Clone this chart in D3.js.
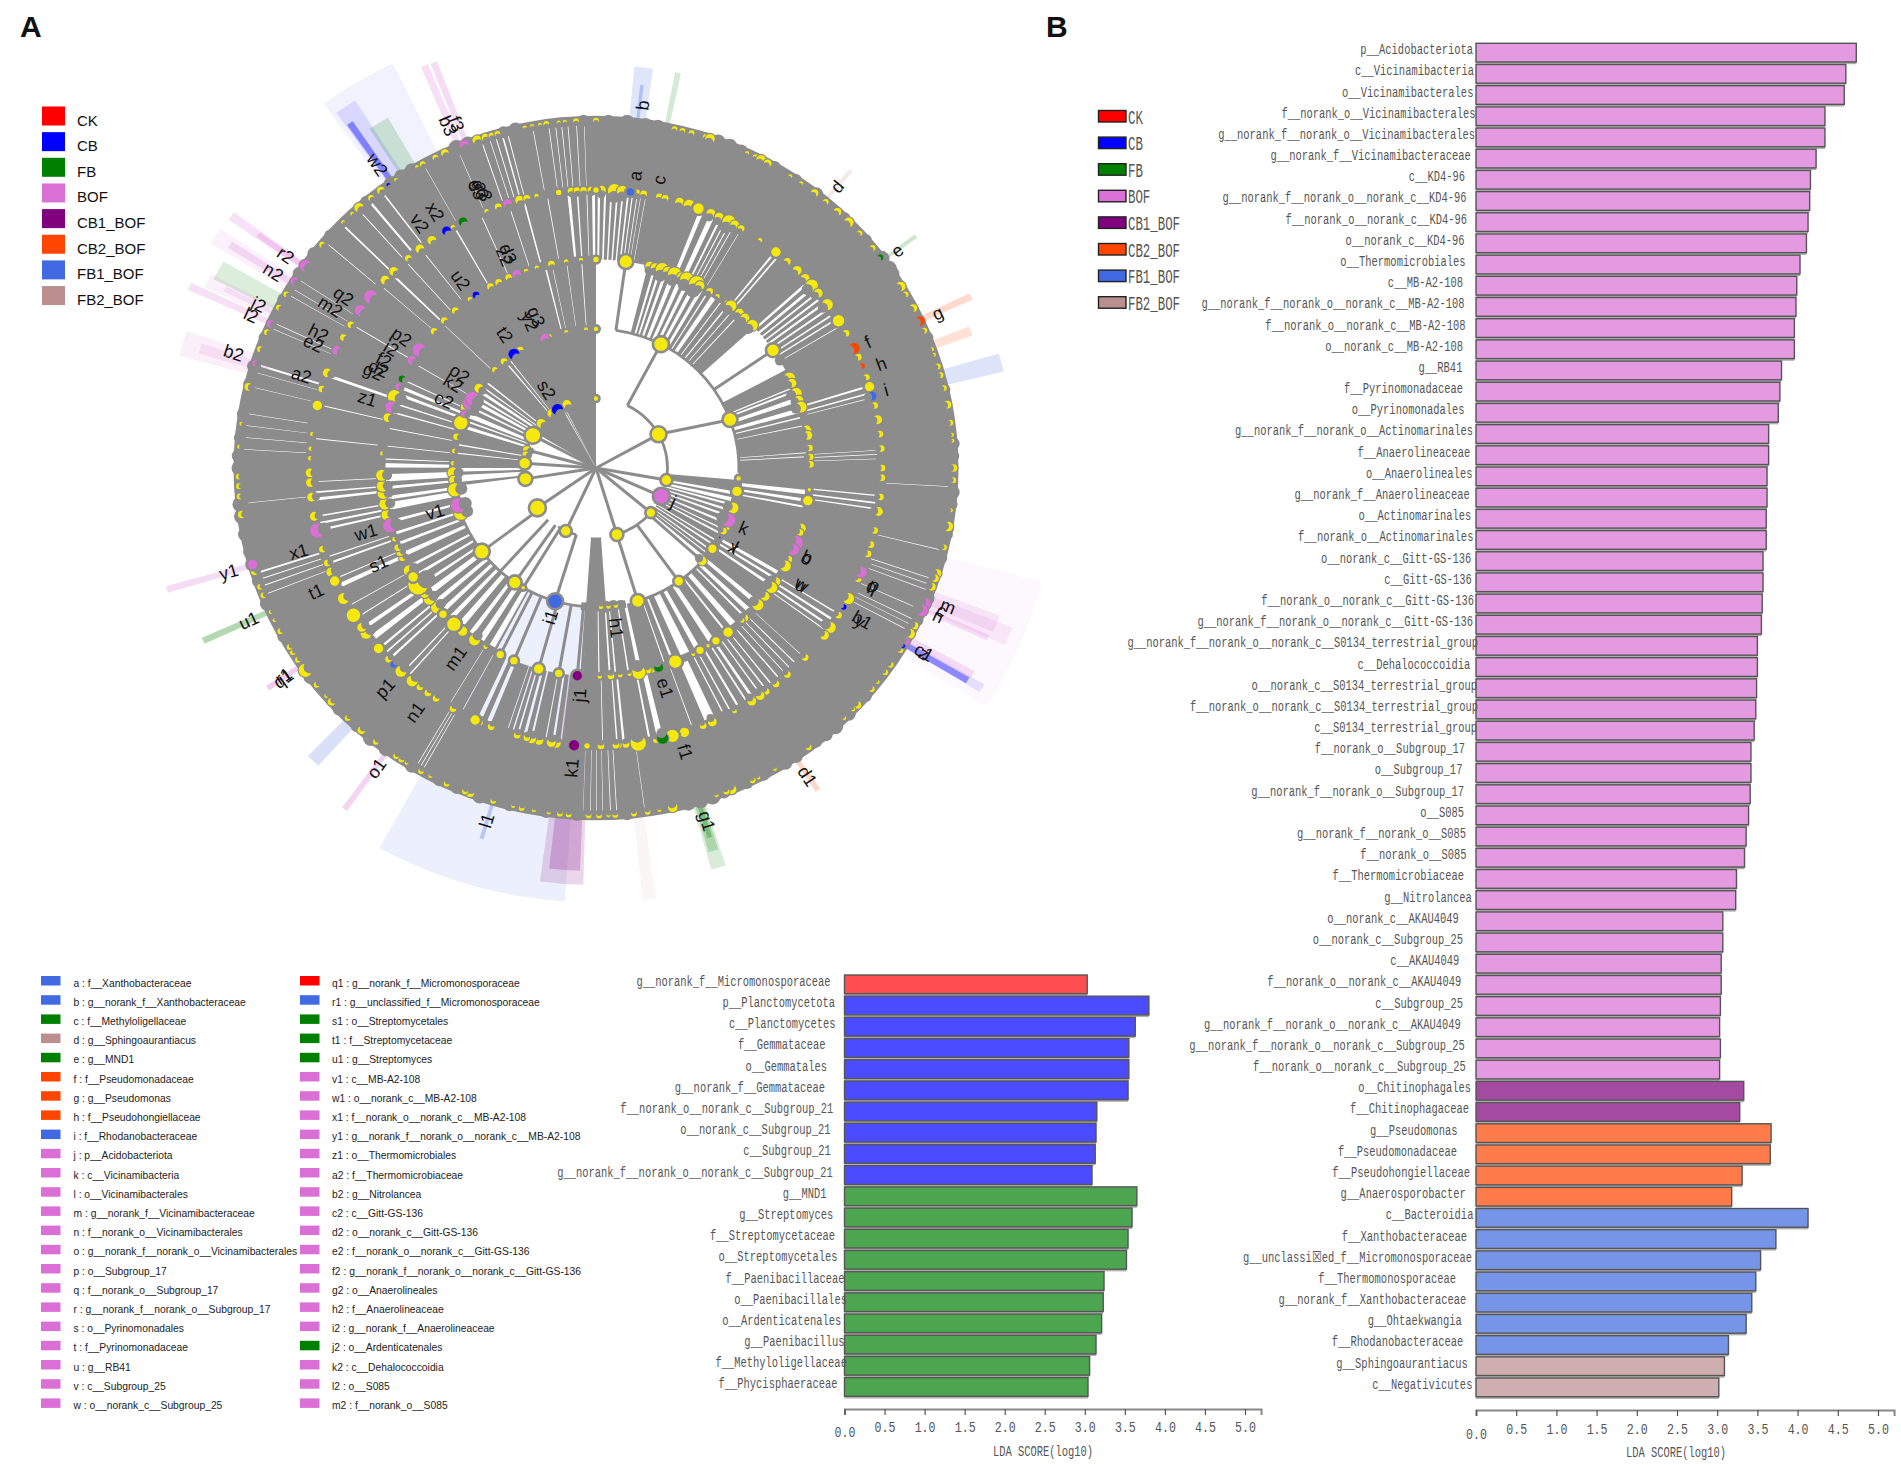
<!DOCTYPE html>
<html><head><meta charset="utf-8">
<style>html,body{margin:0;padding:0;background:#fff}svg{display:block}</style>
<script src="https://cdn.jsdelivr.net/npm/d3@7"></script></head><body>
<script>
// ---------- group colours ----------
const groupNames=["CK","CB","FB","BOF","CB1_BOF","CB2_BOF","FB1_BOF","FB2_BOF"];
const groupColors=["#ff0000","#0000ff","#008000","#da70d6","#800080","#ff4500","#4169e1","#bc8f8f"];
const barColors=["#ff4d50","#4b4bff","#4ba64f","#e49ae0","#a44aa0","#ff7b49","#7795e8","#ceaeae"];
const CK=0,CB=1,FB=2,BOF=3,CB1=4,CB2=5,FB1=6,FB2=7;

// ---------- bar chart, lower middle ----------
const leftNames=["g__norank_f__Micromonosporaceae","p__Planctomycetota","c__Planctomycetes","f__Gemmataceae","o__Gemmatales","g__norank_f__Gemmataceae","f__norank_o__norank_c__Subgroup_21","o__norank_c__Subgroup_21","c__Subgroup_21","g__norank_f__norank_o__norank_c__Subgroup_21","g__MND1","g__Streptomyces","f__Streptomycetaceae","o__Streptomycetales","f__Paenibacillaceae","o__Paenibacillales","o__Ardenticatenales","g__Paenibacillus","f__Methyloligellaceae","f__Phycisphaeraceae"];
const leftValues=[3.03,3.80,3.63,3.55,3.55,3.54,3.15,3.14,3.13,3.09,3.65,3.59,3.54,3.52,3.24,3.23,3.21,3.14,3.06,3.04];
const leftGroups=[0,1,1,1,1,1,1,1,1,1,2,2,2,2,2,2,2,2,2,2];
const leftLabelGap=[14,9.4,9,18.9,17.5,19.4,11.3,14,13.7,11.8,18,11.3,9.4,7,0,-2.4,3.3,0,-2.4,7];

// ---------- bar chart, right ----------
const rightNames=["p__Acidobacteriota","c__Vicinamibacteria","o__Vicinamibacterales","f__norank_o__Vicinamibacterales","g__norank_f__norank_o__Vicinamibacterales","g__norank_f__Vicinamibacteraceae","c__KD4-96","g__norank_f__norank_o__norank_c__KD4-96","f__norank_o__norank_c__KD4-96","o__norank_c__KD4-96","o__Thermomicrobiales","c__MB-A2-108","g__norank_f__norank_o__norank_c__MB-A2-108","f__norank_o__norank_c__MB-A2-108","o__norank_c__MB-A2-108","g__RB41","f__Pyrinomonadaceae","o__Pyrinomonadales","g__norank_f__norank_o__Actinomarinales","f__Anaerolineaceae","o__Anaerolineales","g__norank_f__Anaerolineaceae","o__Actinomarinales","f__norank_o__Actinomarinales","o__norank_c__Gitt-GS-136","c__Gitt-GS-136","f__norank_o__norank_c__Gitt-GS-136","g__norank_f__norank_o__norank_c__Gitt-GS-136","g__norank_f__norank_o__norank_c__S0134_terrestrial_group","c__Dehalococcoidia","o__norank_c__S0134_terrestrial_group","f__norank_o__norank_c__S0134_terrestrial_group","c__S0134_terrestrial_group","f__norank_o__Subgroup_17","o__Subgroup_17","g__norank_f__norank_o__Subgroup_17","o__S085","g__norank_f__norank_o__S085","f__norank_o__S085","f__Thermomicrobiaceae","g__Nitrolancea","o__norank_c__AKAU4049","o__norank_c__Subgroup_25","c__AKAU4049","f__norank_o__norank_c__AKAU4049","c__Subgroup_25","g__norank_f__norank_o__norank_c__AKAU4049","g__norank_f__norank_o__norank_c__Subgroup_25","f__norank_o__norank_c__Subgroup_25","o__Chitinophagales","f__Chitinophagaceae","g__Pseudomonas","f__Pseudomonadaceae","f__Pseudohongiellaceae","g__Anaerosporobacter","c__Bacteroidia","f__Xanthobacteraceae","g__unclassi\u2612ed_f__Micromonosporaceae","f__Thermomonosporaceae","g__norank_f__Xanthobacteraceae","g__Ohtaekwangia","f__Rhodanobacteraceae","g__Sphingoaurantiacus","c__Negativicutes"];
const rightValues=[4.73,4.60,4.58,4.34,4.34,4.23,4.16,4.15,4.13,4.11,4.03,3.99,3.98,3.96,3.96,3.80,3.78,3.76,3.64,3.64,3.62,3.62,3.61,3.61,3.57,3.57,3.56,3.55,3.50,3.50,3.49,3.48,3.46,3.42,3.42,3.41,3.39,3.36,3.34,3.24,3.23,3.07,3.07,3.05,3.05,3.04,3.03,3.04,3.03,3.33,3.28,3.67,3.66,3.31,3.18,4.13,3.73,3.54,3.48,3.43,3.36,3.14,3.09,3.02];
const rightCounts=[49,2,4,7,2];
const rightGroupIds=[BOF,CB1,CB2,FB1,FB2];
const rightLabelGap=[3,2,2.6,.5,1,5.2,11,9.4,8.9,11.5,10.5,13,11.5,10.5,13,13.6,13,11.5,3,5.8,3.6,6.3,4.7,2.6,4.7,4.2,2,3,-2,5.8,-1,-2,-1,11,13.6,12,12,10,9.4,12,4.2,17.3,13,16.8,14.7,13,15.2,11.2,10.2,5,7,18.4,19,6,10.2,2.6,9,4,20,9.7,14.3,12.8,8.2,3.6];
const ldaTicks=[0,.5,1,1.5,2,2.5,3,3.5,4,4.5,5];

// ---------- biomarker key ----------
const keyColumn1=[["a : f__Xanthobacteraceae",FB1],["b : g__norank_f__Xanthobacteraceae",FB1],["c : f__Methyloligellaceae",FB],["d : g__Sphingoaurantiacus",FB2],["e : g__MND1",FB],["f : f__Pseudomonadaceae",CB2],["g : g__Pseudomonas",CB2],["h : f__Pseudohongiellaceae",CB2],["i : f__Rhodanobacteraceae",FB1],["j : p__Acidobacteriota",BOF],["k : c__Vicinamibacteria",BOF],["l : o__Vicinamibacterales",BOF],["m : g__norank_f__Vicinamibacteraceae",BOF],["n : f__norank_o__Vicinamibacterales",BOF],["o : g__norank_f__norank_o__Vicinamibacterales",BOF],["p : o__Subgroup_17",BOF],["q : f__norank_o__Subgroup_17",BOF],["r : g__norank_f__norank_o__Subgroup_17",BOF],["s : o__Pyrinomonadales",BOF],["t : f__Pyrinomonadaceae",BOF],["u : g__RB41",BOF],["v : c__Subgroup_25",BOF],["w : o__norank_c__Subgroup_25",BOF]];
const keyColumn2=[["q1 : g__norank_f__Micromonosporaceae",CK],["r1 : g__unclassified_f__Micromonosporaceae",FB1],["s1 : o__Streptomycetales",FB],["t1 : f__Streptomycetaceae",FB],["u1 : g__Streptomyces",FB],["v1 : c__MB-A2-108",BOF],["w1 : o__norank_c__MB-A2-108",BOF],["x1 : f__norank_o__norank_c__MB-A2-108",BOF],["y1 : g__norank_f__norank_o__norank_c__MB-A2-108",BOF],["z1 : o__Thermomicrobiales",BOF],["a2 : f__Thermomicrobiaceae",BOF],["b2 : g__Nitrolancea",BOF],["c2 : c__Gitt-GS-136",BOF],["d2 : o__norank_c__Gitt-GS-136",BOF],["e2 : f__norank_o__norank_c__Gitt-GS-136",BOF],["f2 : g__norank_f__norank_o__norank_c__Gitt-GS-136",BOF],["g2 : o__Anaerolineales",BOF],["h2 : f__Anaerolineaceae",BOF],["i2 : g__norank_f__Anaerolineaceae",BOF],["j2 : o__Ardenticatenales",FB],["k2 : c__Dehalococcoidia",BOF],["l2 : o__S085",BOF],["m2 : f__norank_o__S085",BOF]];

// ---------- cladogram: wedges as [fromDeg,toDeg], clockwise from the top ----------
const band1Gray=[[301,360]];
const band1Gaps=[[331,331.8],[333,333.6]];
const band2Gray=[[258,360],[95,130],[176,184]];
const band2Gaps=[[258,262.5],[264,267],[268.5,270],[276,276.5],[279.5,280.2],[287,288.5],[290,290.8],[292,294],[296,297],[298.5,300],[301,302],[303.5,304.8],[306,306.6],[308.5,309.2],[320,320.6],[322,322.4],[99.8,101.2],[102.5,104.2],[105,106],[107.5,108.5],[110,111],[113,114],[116,116.6],[118,118.8],[121.5,122.2],[123.5,124.3],[126,126.7],[128,128.5]];
const band3Gray=[[14,47.5],[62,183.5],[208,360]];
const band3Gaps=[[15.5,16.3],[17,17.8],[18.6,19.6],[20.5,22],[22.8,24.2],[25,26.2],[27,28.3],[29.2,30.4],[31.5,32],[33,34.6],[36,36.4],[38,38.5],[40,40.3],[42,42.4],[67,67.5],[68,68.7],[70,71.5],[73,74.5],[75.5,76],[78,78.3],[85.6,85.9],[86.7,87],[96,97.5],[98.5,99.5],[100.5,101.2],[120,121.2],[122,122.8],[124,125],[130,131.5],[133,134.5],[135.5,136.2],[138.5,140.5],[142,142.7],[146,148],[150.5,152.2],[153.5,156.5],[158.5,159.3],[161,161.4],[167.5,168.8],[171,171.5],[174.5,175],[176,176.6],[179,179.4],[208.5,210.5],[212,214],[215.5,217],[219,221],[222.5,224],[225.5,227],[228.5,230],[231.5,233.5],[235,236],[238,239],[241,242],[244.5,246],[248,249],[251,252],[254.5,255.5],[258,260.5],[261,262.2],[264,265],[266,268.5],[270,271.5],[272.3,272.7],[276,276.3],[281,281.3],[285.5,286],[288,288.5],[290.5,291.5],[292.5,293.5],[295,295.4],[300.5,300.7],[314,314.2],[346,346.5],[348,348.2],[352,352.2],[356,356.3]];
const band4Gray=[[0,360]];
const band4Gaps=[[0.2,1],[1.5,2.2],[2.8,3.4],[4,4.6],[5.1,5.7],[6.2,6.8],[7.2,7.6],[8.2,8.5],[9,9.2],[10,10.2],[21,22.5],[23.2,25],[25.5,26.2],[26.8,27.2],[27.8,28.2],[28.8,29.1],[30.5,30.7],[38.5,39.2],[39.6,40.2],[47.5,48.5],[49,50],[50.5,51.2],[51.8,52.5],[53,53.8],[54.5,55.2],[56,56.6],[57.2,57.8],[59,59.3],[72.5,73.2],[74,74.6],[75.2,75.5],[86.2,86.4],[87,87.3],[88,88.2],[95.5,96],[97,97.6],[98.3,98.8],[121.5,122],[123,123.8],[124.4,125.2],[125.8,126.2],[133,133.2],[135,135.4],[136.5,136.9],[138,138.3],[139.5,140],[141.5,142],[143,143.5],[144.5,145],[146,147],[147.6,148.2],[149.5,150.3],[151.5,152],[153,153.5],[154.5,158],[160,160.3],[166,168],[168.8,169.5],[174,174.8],[175.5,176],[178.5,178.8],[186.8,187.4],[188.2,189],[190,190.4],[192.7,193.4],[194,195],[195.6,196.2],[196.8,197.3],[198,198.3],[201.5,203],[203.5,205],[208,208.3],[211,211.2],[221,221.5],[222.3,222.8],[226,226.8],[227.6,228.2],[229,229.8],[231,233],[234,235.4],[237,237.4],[240,240.3],[244,245.5],[246.2,246.6],[249.5,250.2],[251,251.4],[256.6,257.4],[258,258.8],[259.6,260.2],[263,264],[264.6,265.2],[267,267.3],[276,276.3],[283,283.4],[289,290],[301,301.3],[311,311.2],[314,314.7],[318,318.3],[322,322.3],[330,330.5],[336,336.3],[342,342.3],[345,345.6],[350,350.3],[354,355],[356,356.5],[358,358.3],[359,360]];
const band5Gray=[[0,360]];
const band5Gaps=[[341,341.4],[342.4,342.7],[343.4,343.8],[344.4,345],[345.4,345.8],[349.6,349.9],[352.2,352.5],[353.3,353.6],[354.3,354.6],[355.3,355.6],[356.7,357],[358,358.2],[337,337.2],[331,331.2],[320,320.9],[322.7,323.3],[318,318.4],[314.3,315],[310.5,310.8],[303,303.2],[301.2,301.4],[300,300.2],[294.7,295],[293.8,294],[287,287.8],[286,286.2],[283.5,283.7],[279,279.2],[277,277.2],[275,275.2],[273,273.2],[264,264.2],[252,252.7],[251,251.4],[249.8,250.2],[248.4,248.7],[210.2,210.5],[209.6,209.9],[209,209.3],[182,182.2],[180.8,181],[179.8,180],[178.8,179],[177.5,177.8],[176.5,176.8],[172,172.2],[116,116.3],[117,117.2],[118,118.3],[114,114.3],[110.6,110.9],[109.6,109.9],[108.6,108.9],[103.6,103.9],[93,93.2]];
const ridges=[[1,[[310,360]],9],[2,[[248,360],[96,130],[168,186]],8],[3,[[14,47],[62,185],[208,360]],8],[4,[[0,360]],9],[5,[[0,360]],10]];
const gapThin=[1,1,0.85,0.6,0.42];

// tree branches: [fromDeg,ring,ring,toDeg] and ring arcs [ring,fromDeg,toDeg]
const spokes=[[298,0,1,298],[285,0,1,285],[274,0,1,274],[261,0,1,261],[235,0,1,235],[205,0,1,205],[163,0,1,163],[130,0,1,130],[114,0,1,114],[100,0,1,100],[61,0,1,61],[26,1,2,27],[61,1,2,69.7],[8,2,3,8],[55.6,2,3,55.6],[145,1,2,144.6],[163,1,2,163],[132,1,2,132],[196,1,2,196.6],[210,1,2,210.6],[214.6,1,2,214.6],[233,1,2,233],[222,1,2,222],[185,2,3,185],[190,2,3,190],[195.5,2,3,195.5],[202.5,2,3,202.5],[206.5,2,3,206.5],[183.8,2,3,183.8]];
const arcsTree=[[1,26,100],[1,130,165],[1,196,212],[1,232,240],[1,262,300],[2,8,92],[2,184,262],[2,132,163],[2,168,172]];

// halos beyond the tree: [fromDeg,toDeg,innerRing,outerRing,group,alpha]
const halos=[[184,209,2,6.25,FB1,.1],[181.7,187.5,3,6,CB1,.16],[182.2,186.5,4,5.8,CB1,.22],[324,334,4,6.48,CB,.05],[324.6,327.5,4,6.27,CB,.11],[324.8,325.7,4,6.04,CB,.4],[327,330,4,5.82,FB,.17],[337,338,4.8,6.27,BOF,.22],[338.3,339.2,4.8,6.26,BOF,.25],[304.8,306,4.8,6.26,BOF,.2],[305,305.8,4.8,5.8,BOF,.25],[300.9,303.2,4.8,6.28,BOF,.1],[301.6,302.6,4.8,6.04,BOF,.22],[296.9,299.7,4.8,6,FB,.14],[295.4,297.4,4.8,6.06,BOF,.1],[296,296.8,4.8,5.8,BOF,.15],[294.2,295.2,4.8,6.26,BOF,.22],[285.5,289,4.8,6.05,BOF,.11],[286.5,288,4.8,5.8,BOF,.14],[162.4,164.4,4.8,6,FB,.15],[162.7,164.1,4.8,5.75,FB,.2],[163,163.7,4.8,5.55,FB,.3],[172.3,174,4.8,6.25,FB2,.08],[145.8,146.6,4.8,5.58,CB2,.22],[119.8,121,4.8,6.26,CB,.1],[120,120.9,4.8,6.03,CB,.4],[118.9,120,4.8,6.05,BOF,.22],[111.5,114,4.8,6.26,BOF,.13],[110.6,113,4.8,6.03,BOF,.15],[113.6,114.4,4.8,6,BOF,.2],[104.7,122.2,4,6.45,BOF,.05],[64.3,65.3,4.8,5.8,CB2,.2],[68.7,70.1,4.8,5.6,CB2,.16],[73.7,76.3,4.8,5.87,FB1,.18],[39.5,40.1,4.8,5.57,FB2,.2],[53,53.6,4.8,5.58,FB,.2],[5.3,7.9,4.8,5.8,FB1,.17],[6.4,6.9,4.8,5.55,FB1,.3],[11,11.8,4.8,5.8,FB,.17],[245.2,246.1,4.8,6.03,FB,.3],[253.3,254.2,4.8,6.25,BOF,.25],[235,235.8,4.8,5.58,BOF,.35],[222.2,224.2,4.8,5.78,FB1,.2],[215.2,216,4.8,6.04,BOF,.3],[196.4,197,4.8,5.57,FB1,.3]];

// nodes: [deg,radius]
const ring1Full=[[0,3.5],[298,8.5],[274,6.5],[261,7],[235,8.5],[205,6],[163,6.5],[130,5.5],[100,6],[61,8]];
const ring1Cres=[[310,4],[322,4],[336,4],[285,3.5],[281,3]];
const ring1Gray=[[340,5],[345,6],[350,6],[354,5],[357,4]];
const ring2Full=[[0,3.5],[27,8],[69.6,7.5],[94.3,3.5],[99.7,6],[125.5,5.5],[144.6,5.5],[163,7],[214.6,7],[210.6,3],[233,8],[289,8],[360,3.5]];
const ring2Cres=[[106.7,5],[115,4],[117,3],[132,4],[172,2],[175,2],[178,2],[283,3],[277,2],[272,2],[268,5],[265,4],[261,6],[251,6],[296,6],[305,4],[315,2.5],[320,3],[328,3],[339.5,2],[341,2],[348,1.5],[356,1.5]];
const ring2Gray=[[170,5],[173,6],[176,6],[180,5],[183,5],[310,5],[345,5],[351,5]];
const ring3Full=[[8,7.5],[55.6,7],[96,3],[99,6],[142,6],[146,5],[148.5,3],[151,5],[158.3,7.5],[190,5],[195.5,6],[202.5,5],[206.5,5],[218.5,6],[221.5,8],[225.5,5],[238.5,6],[360,4]];
const ring3Cres=[[14.5,4],[16,4],[18,6],[19.5,4],[21.5,6],[23.5,4],[25,6],[28,7],[29,4],[32,3],[34.5,2],[37.5,2],[39,5],[42,4],[44,4],[46.8,5],[64.4,5],[66,4],[69,5],[71,4],[73,5],[79.5,4],[81,4],[84.5,3],[87,3],[89,3],[106.8,4],[108,3],[116,3],[118,5],[123,4],[125,5],[128,4],[131,5],[136,3],[137,2],[153,2],[165,3],[166,3],[168.5,6],[171,1.5],[173.5,2],[176,3],[179,2],[211,2],[214.5,5],[228,5],[231,5],[233,4],[236,9],[240.5,5],[244.5,3],[246,3],[247.5,3],[250,2],[257,5],[260,5],[263,5],[265,5],[268,5],[274,1.5],[284,4],[290,6],[311,3],[315,3],[319,3],[324,2],[330.5,3],[333,3],[336,3],[341,2],[344,2],[348,3],[352,2],[356,2]];
const ring3Gray=[[59,5],[92,5],[103,5],[134,5],[276,5],[279,6],[282,5],[308,5],[322,5],[343,5],[346,5]];
const ring4Full=[[0,4],[21,6.5],[39,6],[58,7],[73,6],[162,6],[164.5,7.5],[181.8,4],[205,6],[229.5,6],[238,8],[246,6],[283,6],[352.5,4]];
const ring4Cres=[[1.1,4],[3.7,6],[5.3,5],[8.2,3],[9.6,3],[12.8,3],[14,3],[17,4],[19,5],[23.7,4],[25.5,4],[27.7,6],[29,4],[30.5,3],[35,2],[42,3],[44.7,4],[47,4],[49,5.5],[51,4],[54,5],[61,3],[66.5,3],[71,3],[77,3],[80,4],[83,3],[86,3],[90,3],[92,3],[96,3],[99,4],[103,3],[106,3],[108,3],[113.5,3],[118,5],[122,3],[125,5],[127,4],[133,3],[138,3],[141,3],[143.5,3],[145,4],[147,4],[151,2],[156,4],[158,3],[167.8,3],[170.6,3],[171.5,7],[174,3],[175.5,3],[176,3],[179,3],[188,4],[189,4],[191.5,4],[193,4],[194,3],[196,3],[201.5,3],[204,3],[210,3],[214,3],[216,3],[218,3],[220,5],[223,5],[226.5,3],[233.5,5],[235,4],[242,5],[248,4],[250,3],[253,3],[260,4],[264,4],[267,4],[269,4],[272,2],[274,2],[277,2],[286.5,3],[290,4],[298,3],[301,3],[312.5,4],[315,4],[319,3],[322,4],[325,4],[330,2],[337.5,2],[340,3],[344.5,4],[346,3],[348,2],[355,3],[356.2,3],[357.5,3],[359,3]];
const ring4Gray=[[33,6],[37,6],[60,5],[88,6],[94,6],[101,6],[110,7],[116,6],[130,6],[136,6],[153,6],[160,5],[200,5],[207,5],[212,5],[244,5],[255,6],[279,6],[293,6],[309,5],[335,5]];
const ring5Cres=[[12.7,3],[14,3],[15.5,3],[18,4],[18.6,5],[25,2],[26.5,3],[27.5,5],[28.7,4],[32.9,2],[35,2],[37.7,4],[40,3],[42.5,4],[45,5],[47.5,3],[50.7,3],[58.5,5],[60,3],[62.6,4],[66.7,3],[70,2],[71,2],[73,3],[74.5,3],[76.7,3],[79.5,4],[82.5,3],[84.5,2],[85.5,2],[90,4],[92,3],[97,2],[99.7,5],[103.2,3],[107.7,5],[108.5,4],[110,4],[117,4],[118.5,5],[121.6,3],[124.5,3],[126,3],[128,2],[129.5,3],[133,4],[134,2],[136,2],[143.5,3],[150,1.5],[153,2],[154,3],[157.7,5],[158.6,3],[160.3,2],[167.6,5],[169.8,2],[171.7,3],[173.9,3],[176.9,3],[178,2],[179.5,3],[181.2,3],[184.4,3],[185.8,3],[187.6,2],[190,2],[192,3],[193.4,2],[196.7,3],[200.6,4],[201.5,3],[204.7,3],[207.6,2],[209.3,3],[212,2],[213,3],[214,3],[218,3],[221,4],[224,3],[227.7,4],[229,2],[231.4,3],[234.4,7],[236.5,3],[238,3],[239,3],[242,3],[244,2],[245.5,2],[248.5,3],[250,3],[252.7,4],[262.3,4],[265.3,3],[267,3],[268.6,3],[273.5,2],[277.3,2],[283.5,4],[290,3],[293,3],[297.5,3],[300,3],[310,3],[315,2],[317,2],[318.5,5],[321,3],[323,4],[326,2],[330,2],[331,3],[333.3,3],[335,4],[340.6,5],[342,4],[343,3],[344,3],[348.5,2],[349.7,2],[351,2],[352,3],[354,2],[355,2],[356.8,3],[360,3]];
const ring5Gray=[[2,6],[5,7],[8,6],[10,6],[20,7],[22,7],[24,6],[30,6],[34,6],[38,7],[44,6],[49,6],[53,8],[55,8],[56,7],[68,6],[77,6],[86,7],[88,6],[94,7],[96,6],[100,6],[101,6],[105,6],[112,7],[116,6],[131,6],[135,7],[138,8],[140,7],[142,6],[146,7],[148,7],[152,6],[155,6],[159,6],[161,8],[163,8],[165,7],[175,6],[183,6],[188,6],[194,6],[199,7],[203,6],[206,6],[211,7],[216,7],[219,8],[222,6],[226,6],[233,7],[241,6],[247,7],[251,6],[256,6],[259,7],[262,8],[264,8],[270,7],[272,7],[275,6],[279,6],[284,6],[287,7],[292,6],[299,6],[304,7],[308,7],[312,6],[320,6],[325,7],[327,7],[329,7],[337,8],[339,7],[345,6],[347,7],[358,6]];
// coloured nodes: [ring,deg,radius,group,crescent]
const colouredNodes=[[1,114,8.5,BOF,0],[1,327.4,5,CB,1],[2,196.6,8,FB1,0],[2,120,2,CB,0],[2,112,6,BOF,1],[2,293,3,BOF,1],[2,298,6,BOF,1],[2,300,6,BOF,1],[2,339,4,BOF,1],[2,325,5,CB,1],[2,254.4,6.5,BOF,1],[3,185,6,CB1,0],[3,163,4,FB,1],[3,111,6,BOF,1],[3,113,5,BOF,1],[3,120.5,1.5,CB,0],[3,254,6,BOF,1],[3,287,5,BOF,1],[3,293,3,BOF,1],[3,295.3,3,FB,1],[3,301,4,BOF,1],[3,304.5,6,BOF,1],[3,326,3,CB,1],[3,338.3,4,BOF,1],[4,6.9,5,FB1,0],[4,64.5,5,CB2,1],[4,68.5,2.5,CB2,1],[4,75,4,FB1,1],[4,112,5,BOF,1],[4,120,2.5,CB,1],[4,166.5,5,FB,1],[4,184.4,6.5,CB1,0],[4,225,3,FB1,1],[4,257,6.5,BOF,1],[4,295,4,BOF,1],[4,304.5,5,BOF,1],[4,308,6,BOF,1],[4,328.5,4,CB,1],[4,332.3,4,FB,1],[4,342,4,BOF,1],[5,52.7,3,FB,1],[5,65,5,CB2,1],[5,113,6,BOF,1],[5,114.2,6,BOF,1],[5,119.9,4,BOF,1],[5,120.8,2,CB,1],[5,253.9,6,BOF,0],[5,287.6,3,BOF,1],[5,294.5,4,BOF,1],[5,302.5,4,BOF,1],[5,305.6,6,BOF,1],[5,324.5,2,CB,1],[5,338.4,5,BOF,1]];

// node letters: [text,deg,ring]
const cladeLabels=[["s2",328.4,1.32],["t2",326.4,2.3],["g3",339,2.33],["y2",336.3,2.3],["u2",325,3.3],["x2",328.6,4.32],["v2",325,4.3],["b3",337.2,5.34],["f3",338.5,5.32],["g3",338,4.32],["a3",338.5,4.28],["e3",337.5,4.34],["d3",338.3,3.32],["z2",337.3,3.3],["w2",325,5.33],["r2",305.2,5.31],["n2",302,5.32],["q2",305,4.31],["m2",302,4.38],["j2",296.5,5.27],["l2",294.5,5.3],["b2",288.1,5.33],["h2",296.6,4.34],["e2",294.4,4.34],["a2",288,4.33],["p2",304.8,3.31],["i2",301,3.34],["f2",297.6,3.35],["d2",295.2,3.36],["g2",294,3.41],["z1",287.4,3.35],["o2",305.5,2.34],["k2",301.4,2.34],["c2",294.7,2.34],["v1",254.4,2.34],["w1",254,3.35],["s1",245.7,3.34],["x1",253.9,4.33],["y1",253.8,5.35],["t1",245.6,4.3],["u1",245.7,5.33],["q1",235.3,5.32],["r1",235.6,5.3],["p1",223,4.33],["n1",215.8,4.33],["o1",215.4,5.3],["m1",215.7,3.37],["l1",196.8,5.3],["k1",184.5,4.33],["j1",184,3.28],["i1",196.6,2.24],["h1",173,2.32],["e1",163,3.31],["f1",163,4.27],["g1",163,5.31],["d1",146.3,5.33],["z",120.2,5.31],["c1",120,5.3],["m",112,5.31],["c",113,5.25],["n",114,5.24],["p",113.4,4.24],["q",113.8,4.22],["b1",120.4,4.32],["y",120.8,4.3],["u",120.5,3.33],["w",120.2,3.33],["b",113.4,3.22],["o",113.8,3.22],["k",112.6,2.24],["x",120.6,2.24],["l",120.3,2.26],["j",114,1.19],["a",7.4,4.24],["c",12,4.24],["b",7.1,5.26],["d",39.8,5.27],["e",53.4,5.25],["g",65,5.27],["f",64.5,4.21],["h",69.4,4.26],["i",74.5,4.21]];

// ---------- drawing ----------
const W=1901,H=1465,svg=d3.select("body").append("svg").attr("width",W).attr("height",H);
const GRAY="#8c8c8c",YEL="#f5e80f";
const cx=596,cy=468;
const rx=d3.scaleLinear().domain([0,5]).range([0,357.5]);
const ry=d3.scaleLinear().domain([0,5]).range([0,347.5]);
const rad=d=>d*Math.PI/180;
const polar=(ring,deg)=>[cx+rx(ring)*Math.sin(rad(deg)),cy-ry(ring)*Math.cos(rad(deg))];
const A=svg.append("g");
const fan=A.append("g").attr("transform",`translate(${cx},${cy}) scale(1,${347.5/357.5})`);
const arc=d3.arc();
// halos first, the grey tree paints over them
fan.selectAll("path.h").data(halos).join("path").attr("class","h")
  .attr("d",d=>arc({innerRadius:rx(d[2]),outerRadius:rx(d[3]),startAngle:rad(d[0]),endAngle:rad(d[1])}))
  .attr("fill",d=>groupColors[d[4]]).attr("opacity",d=>d[5]);
function grayParts(ranges,gaps,thin){
  const out=[],sorted=gaps.map(([a,b])=>{const m=(a+b)/2,w=(b-a)*thin/2;return [m-w,m+w];}).sort((a,b)=>a[0]-b[0]);
  ranges.forEach(([s,e])=>{let p=s;sorted.forEach(([g0,g1])=>{if(g1<=s||g0>=e)return;if(g0>p)out.push([p,g0]);p=Math.max(p,g1);});if(p<e)out.push([p,e]);});
  return out;
}
[[band1Gray,band1Gaps,0],[band2Gray,band2Gaps,1],[band3Gray,band3Gaps,2],[band4Gray,band4Gaps,3],[band5Gray,band5Gaps,4]].forEach(([rg,gp,k])=>{
  fan.append("g").selectAll("path").data(grayParts(rg,gp,gapThin[k])).join("path")
    .attr("d",d=>arc({innerRadius:rx(k),outerRadius:rx(k+1),startAngle:rad(d[0]),endAngle:rad(d[1])})).attr("fill",GRAY);
});
ridges.forEach(([ring,ranges,w])=>{
  fan.append("g").selectAll("path").data(ranges).join("path")
    .attr("d",d=>arc({innerRadius:rx(ring)-w/2,outerRadius:rx(ring)+w/2,startAngle:rad(d[0]),endAngle:rad(d[1])})).attr("fill",GRAY);
});
A.append("g").selectAll("line").data(spokes).join("line")
  .attr("x1",d=>polar(d[1],d[0])[0]).attr("y1",d=>polar(d[1],d[0])[1])
  .attr("x2",d=>polar(d[2],d[3])[0]).attr("y2",d=>polar(d[2],d[3])[1])
  .attr("stroke",GRAY).attr("stroke-width",3);
fan.append("g").selectAll("path").data(arcsTree).join("path")
  .attr("d",d=>arc({innerRadius:rx(d[0])-1.4,outerRadius:rx(d[0])+1.4,startAngle:rad(d[1]),endAngle:rad(d[2])})).attr("fill",GRAY);
function grayDots(ring,list){
  A.append("g").selectAll("circle").data(list).join("circle")
    .attr("cx",d=>polar(ring,d[0])[0]).attr("cy",d=>polar(ring,d[0])[1]).attr("r",d=>d[1]).attr("fill",GRAY);
}
function dots(ring,list,cres,col){
  const g=A.append("g");
  list.forEach(d=>{
    const c=col||YEL;
    if(cres){
      const grow=ring===5?0.95:1.1,r=Math.max(d[1]*grow,2),[x,y]=polar(ring,d[0]);
      g.append("circle").attr("cx",x).attr("cy",y).attr("r",r+1.2).attr("fill",GRAY);
      g.append("circle").attr("cx",x).attr("cy",y).attr("r",r).attr("fill",c);
      const [ix,iy]=polar(ring-(ring===5?0.8:1.0)*r/71.5,d[0]);
      g.append("circle").attr("cx",ix).attr("cy",iy).attr("r",r*0.92).attr("fill",GRAY);
    } else {
      const [x,y]=polar(ring,d[0]);
      g.append("circle").attr("cx",x).attr("cy",y).attr("r",d[1]).attr("fill",c).attr("stroke",GRAY).attr("stroke-width",2.6);
    }
  });
}
[[1,ring1Gray],[2,ring2Gray],[3,ring3Gray],[4,ring4Gray],[5,ring5Gray]].forEach(([r,l])=>grayDots(r,l));
dots(1,ring1Cres,true);dots(1,ring1Full,false);
dots(2,ring2Cres,true);dots(2,ring2Full,false);
dots(3,ring3Cres,true);dots(3,ring3Full,false);
dots(4,ring4Cres,true);dots(4,ring4Full,false);
dots(5,ring5Cres,true);
colouredNodes.forEach(d=>dots(d[0],[[d[1],d[2]]],!!d[4],groupColors[d[3]]));
A.append("g").selectAll("text").data(cladeLabels).join("text")
  .attr("transform",d=>{const [x,y]=polar(d[2],d[1]),rot=d[1]<180?d[1]-90:d[1]-270;return `translate(${x},${y}) rotate(${rot})`;})
  .attr("text-anchor","middle").attr("dy","0.35em").attr("font-family","Liberation Sans").attr("font-size",18).attr("fill","#111").text(d=>d[0]);

// panel letters
svg.selectAll("text.panel").data([["A",20],["B",1046]]).join("text").attr("class","panel")
  .attr("x",d=>d[1]).attr("y",37).attr("font-family","Liberation Sans").attr("font-weight","bold").attr("font-size",30).attr("fill","#111").text(d=>d[0]);

// group legend, upper left
const leg=svg.append("g");
groupNames.forEach((n,i)=>{
  const y=106.5+i*25.65;
  leg.append("rect").attr("x",42).attr("y",y).attr("width",23).attr("height",19).attr("fill",groupColors[i]);
  leg.append("text").attr("x",77).attr("y",y+19).attr("font-family","Liberation Sans").attr("font-size",15).attr("fill","#111").text(n);
});
// biomarker key
[[keyColumn1,41,73.5],[keyColumn2,300,332]].forEach(([col,sx,tx])=>{
  const g=svg.append("g");
  col.forEach((d,i)=>{
    const y=976+i*19.2;
    g.append("rect").attr("x",sx).attr("y",y).attr("width",19.5).attr("height",9.5).attr("fill",groupColors[d[1]]);
    g.append("text").attr("x",tx).attr("y",y+10.5).attr("font-family","Liberation Sans").attr("font-size",10.3).attr("fill","#222").text(d[0]);
  });
});

// narrow bitmap-like font used in the bar panels
function narrowText(sel,size){
  sel.attr("font-family","Liberation Mono").attr("font-size",size).attr("fill","#555");
}
const charScale=0.72;
function barPanel(names,values,groups,gaps,x0,pxPerUnit,top,step,axisY,titleX,tickY){
  const g=svg.append("g");
  const x=d3.scaleLinear().domain([0,5]).range([x0,x0+5*pxPerUnit]);
  const y=d3.scaleLinear().domain([0,names.length-1]).range([top,top+step*(names.length-1)]);
  const h=18.7;
  const data=names.map((n,i)=>({n,v:values[i],g:groups[i],gap:gaps[i],i}));
  g.append("g").selectAll("rect").data(data).join("rect")
    .attr("x",x(0)).attr("y",d=>y(d.i)+h).attr("width",d=>x(d.v)-x(0)).attr("height",2.2).attr("fill","#b0b0b0");
  g.append("g").selectAll("rect").data(data).join("rect")
    .attr("x",x(0)).attr("y",d=>y(d.i)).attr("width",d=>x(d.v)-x(0)).attr("height",h)
    .attr("fill",d=>barColors[d.g]).attr("stroke","#555").attr("stroke-width",1.4);
  g.append("g").selectAll("text").data(data).join("text")
    .attr("transform",d=>`translate(${x0-d.gap},${y(d.i)+h/2+1.5}) scale(${charScale},1)`)
    .attr("text-anchor","end").call(narrowText,14.5).text(d=>d.n);
  const axis=d3.axisBottom(d3.scaleLinear().domain([0,5.2]).range([x0,x0+5.2*pxPerUnit]))
    .tickValues(ldaTicks).tickFormat(d3.format(".1f")).tickSize(6).tickPadding(0);
  const ax=g.append("g").attr("transform",`translate(0,${axisY})`).call(axis);
  ax.select(".domain").attr("stroke","#888").attr("stroke-width",2);
  ax.selectAll(".tick line").attr("stroke","#555").attr("stroke-width",1.2);
  ax.selectAll(".tick text").attr("y",0).attr("dy",0)
    .attr("transform",(d,i)=>`translate(0,${tickY+(i==0?5:0)}) scale(0.8,1)`)
    .attr("text-anchor","middle").call(narrowText,14.5);
  g.append("text").attr("transform",`translate(${titleX},${axisY+47}) scale(${charScale},1)`)
    .attr("text-anchor","middle").call(narrowText,14.5).text("LDA SCORE(log10)");
}
barPanel(leftNames,leftValues,leftGroups,leftLabelGap,844.5,80.1,975,21.19,1409,1043,23);
const rightGroups=rightCounts.flatMap((c,i)=>d3.range(c).map(()=>rightGroupIds[i]));
barPanel(rightNames,rightValues,rightGroups,rightLabelGap,1476,80.4,43.3,21.186,1410,1676,24);

// legend of panel B
groupNames.forEach((n,i)=>{
  const y=110.5+i*26.6;
  svg.append("rect").attr("x",1098.5).attr("y",y).attr("width",27.5).attr("height",11.5).attr("fill",groupColors[i]).attr("stroke","#222").attr("stroke-width",1.4);
  svg.append("text").attr("transform",`translate(1128,${y+13}) scale(0.62,1)`).call(narrowText,20).text(n);
});
</script>
</body></html>
